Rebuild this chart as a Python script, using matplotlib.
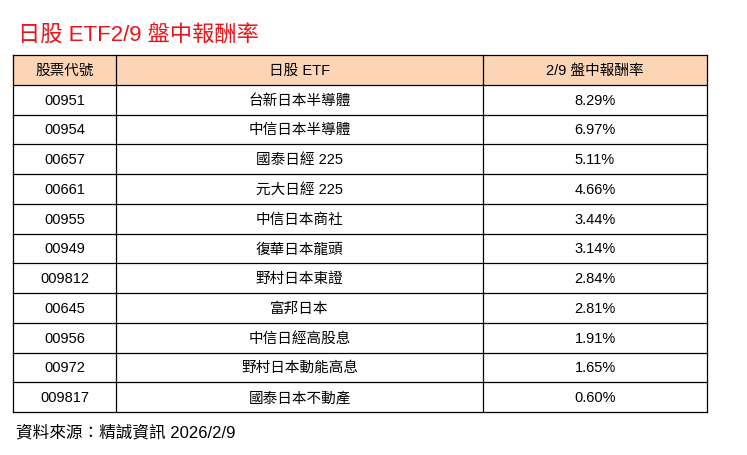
import matplotlib
matplotlib.use("Agg")
import matplotlib.pyplot as plt
from matplotlib.patches import Rectangle

plt.rcParams['font.family'] = ['Liberation Sans', 'Noto Sans CJK TC', 'DejaVu Sans']

title = "日股 ETF2/9 盤中報酬率"
headers = ["股票代號", "日股 ETF", "2/9 盤中報酬率"]
codes = ["00951", "00954", "00657", "00661", "00955", "00949", "009812", "00645", "00956", "00972", "009817"]
names = ["台新日本半導體", "中信日本半導體", "國泰日經 225", "元大日經 225", "中信日本商社", "復華日本龍頭",
         "野村日本東證", "富邦日本", "中信日經高股息", "野村日本動能高息", "國泰日本不動產"]
returns = [8.29, 6.97, 5.11, 4.66, 3.44, 3.14, 2.84, 2.81, 1.91, 1.65, 0.60]
source = "資料來源：精誠資訊 2026/2/9"

W, H = 747, 456
fig = plt.figure(figsize=(W/100, H/100), dpi=100)
ax = fig.add_axes([0, 0, 1, 1])
ax.set_xlim(0, W); ax.set_ylim(H, 0); ax.axis('off')

xs = [13, 116, 483, 707]
top, bottom = 56, 413
n = len(codes) + 1
rh = (bottom - top) / n

ax.text(18, 35, title, color='#E8141B', fontsize=16, va='center', ha='left')
ax.add_patch(Rectangle((xs[0], top), xs[-1]-xs[0], rh, facecolor='#FBD5B5', edgecolor='none'))
for i in range(n+1):
    ax.plot([xs[0], xs[-1]], [top+i*rh]*2, color='black', lw=0.9)
for x in xs:
    ax.plot([x, x], [top, bottom], color='black', lw=0.9)

fs = 10.5
for j, h in enumerate(headers):
    ax.text((xs[j]+xs[j+1])/2, top+rh/2, h, ha='center', va='center', fontsize=fs)
for i, (c, nm, r) in enumerate(zip(codes, names, returns)):
    y = top + (i+1.5)*rh
    ax.text((xs[0]+xs[1])/2, y, c, ha='center', va='center', fontsize=fs)
    ax.text((xs[1]+xs[2])/2, y, nm, ha='center', va='center', fontsize=fs)
    ax.text((xs[2]+xs[3])/2, y, f"{r:.2f}%", ha='center', va='center', fontsize=fs)

ax.text(16, 433, source, fontsize=12, va='center', ha='left')
fig.savefig("out.png", dpi=100, facecolor='white')
